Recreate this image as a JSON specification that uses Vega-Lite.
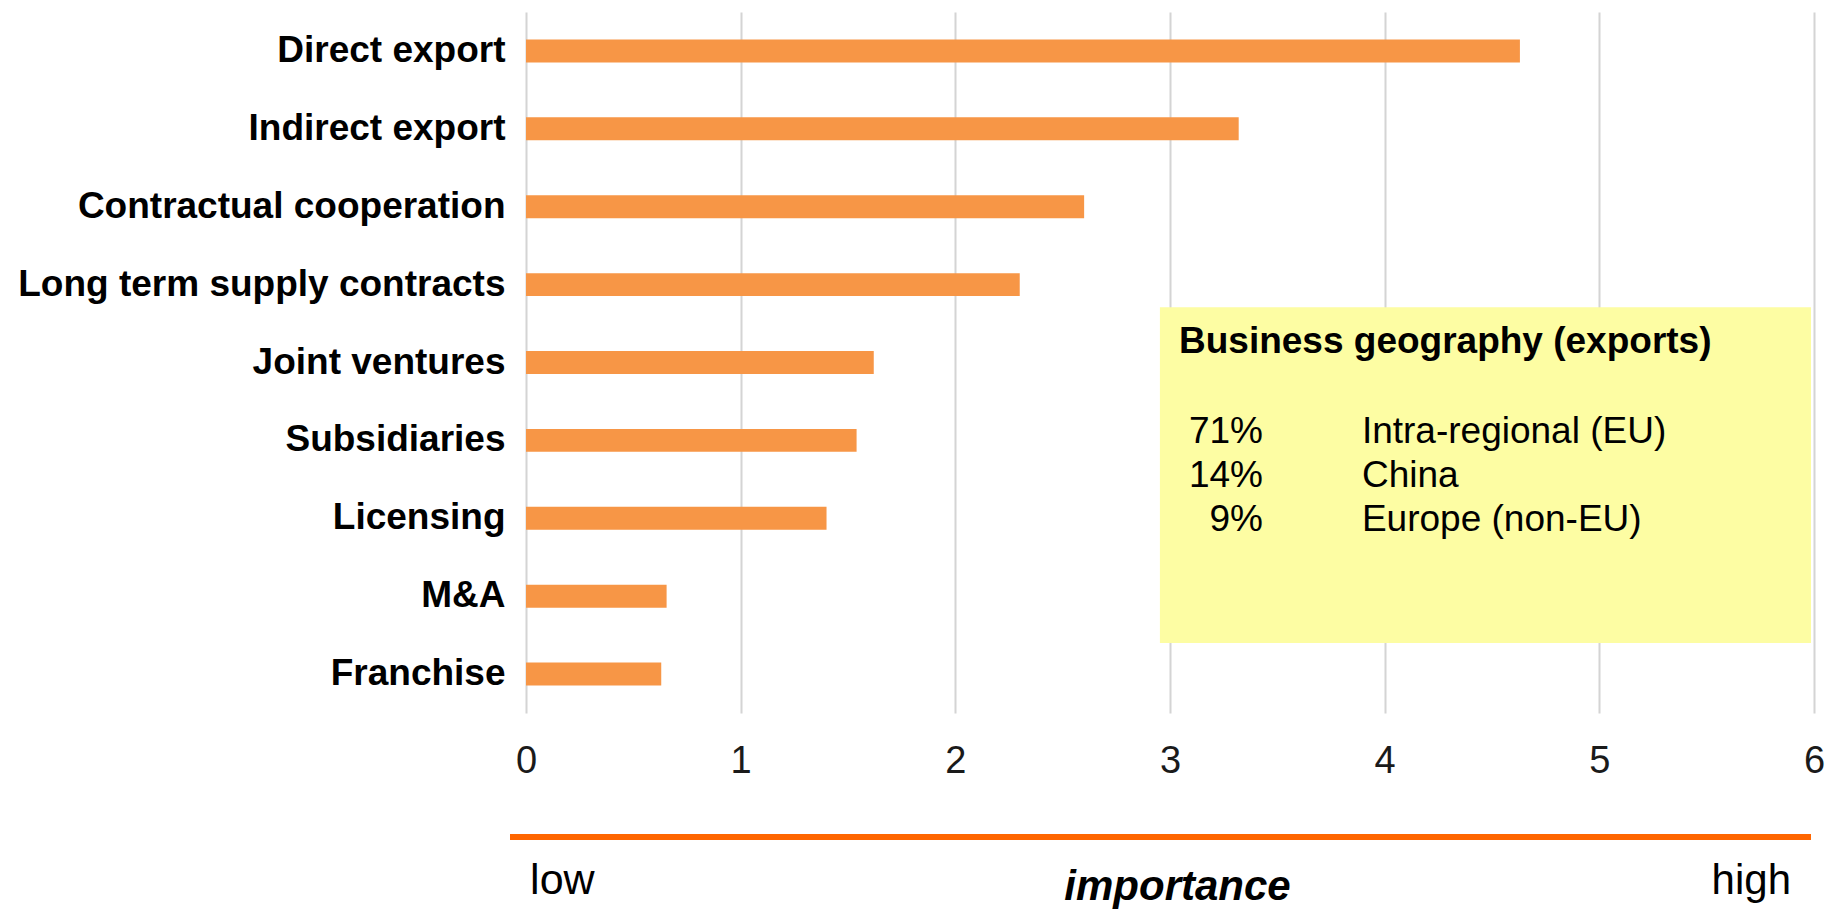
{
  "$schema": "https://vega.github.io/schema/vega-lite/v6.json",
  "width": 1288,
  "height": 701,
  "autosize": {"type": "none"},
  "padding": {"left": 526, "top": 12, "right": 18, "bottom": 197},
  "background": "white",
  "config": {"view": {"stroke": null}, "font": "Liberation Sans"},
  "resolve": {"scale": {"y": "independent"}, "axis": {"y": "independent"}},
  "layer": [
    {
      "data": {"values": [
        {"method": "Direct export\u00a0", "importance": 4.63},
        {"method": "Indirect export\u00a0", "importance": 3.32},
        {"method": "Contractual cooperation", "importance": 2.60},
        {"method": "Long term supply contracts", "importance": 2.30},
        {"method": "Joint ventures", "importance": 1.62},
        {"method": "Subsidiaries", "importance": 1.54},
        {"method": "Licensing\u00a0", "importance": 1.40},
        {"method": "M&A", "importance": 0.655},
        {"method": "Franchise", "importance": 0.63}
      ]},
      "mark": {"type": "bar", "color": "#F79646"},
      "encoding": {
        "y": {"field": "method", "type": "nominal", "sort": null,
          "scale": {"paddingInner": 0.705, "paddingOuter": 0.353},
          "axis": {"title": null, "domain": false, "ticks": false, "labelFont": "Liberation Sans", "labelFontSize": 37, "labelFontWeight": "bold", "labelColor": "#000000", "labelPadding": 21, "labelLimit": 600}},
        "x": {"field": "importance", "type": "quantitative",
          "scale": {"domain": [0, 6], "nice": false, "zero": false},
          "axis": {"title": null, "values": [0, 1, 2, 3, 4, 5, 6], "format": "d", "domain": false, "ticks": false, "tickSize": 0, "grid": true, "gridColor": "#d4d4d4", "gridWidth": 2, "labelFont": "Liberation Sans", "labelFontSize": 38, "labelColor": "#1a1a1a", "labelPadding": 29, "labelFlush": false}}
      }
    },
    {
      "data": {"values": [{"left": 2.953, "right": 5.986, "top": 3.79, "bottom": 8.10}]},
      "mark": {"type": "rect", "color": "#FDFDA3"},
      "encoding": {
        "x": {"field": "left", "type": "quantitative", "scale": {"domain": [0, 6], "nice": false, "zero": false}},
        "x2": {"field": "right"},
        "y": {"field": "top", "type": "quantitative", "scale": {"domain": [0, 9], "reverse": true, "nice": false, "zero": false}, "axis": null},
        "y2": {"field": "bottom"}
      }
    },
    {
      "data": {"values": [{"heading": "Business geography (exports)", "x": 3.042, "level": 4.378}]},
      "mark": {"type": "text", "font": "Liberation Sans", "fontSize": 37, "fontWeight": "bold", "align": "left", "baseline": "alphabetic", "color": "#000000"},
      "encoding": {
        "x": {"field": "x", "type": "quantitative", "scale": {"domain": [0, 6], "nice": false, "zero": false}},
        "y": {"field": "level", "type": "quantitative", "scale": {"domain": [0, 9], "reverse": true, "nice": false, "zero": false}, "axis": null},
        "text": {"field": "heading"}
      }
    },
    {
      "data": {"values": [
        {"share": "71%", "region": "Intra-regional (EU)", "level": 5.533},
        {"share": "14%", "region": "China", "level": 6.098},
        {"share": "9%", "region": "Europe (non-EU)", "level": 6.663}
      ]},
      "layer": [
        {
          "mark": {"type": "text", "font": "Liberation Sans", "fontSize": 37, "align": "right", "baseline": "alphabetic", "color": "#000000"},
          "encoding": {
            "x": {"datum": 3.433, "type": "quantitative", "scale": {"domain": [0, 6], "nice": false, "zero": false}},
            "y": {"field": "level", "type": "quantitative", "scale": {"domain": [0, 9], "reverse": true, "nice": false, "zero": false}, "axis": null},
            "text": {"field": "share"}
          }
        },
        {
          "mark": {"type": "text", "font": "Liberation Sans", "fontSize": 37, "align": "left", "baseline": "alphabetic", "color": "#000000"},
          "encoding": {
            "x": {"datum": 3.894, "type": "quantitative", "scale": {"domain": [0, 6], "nice": false, "zero": false}},
            "y": {"field": "level", "type": "quantitative", "scale": {"domain": [0, 9], "reverse": true, "nice": false, "zero": false}, "axis": null},
            "text": {"field": "region"}
          }
        }
      ]
    },
    {
      "data": {"values": [{"from": -0.0745, "to": 5.986, "level": 10.592}]},
      "mark": {"type": "rule", "color": "#FF6600", "strokeWidth": 6, "strokeCap": "butt"},
      "encoding": {
        "x": {"field": "from", "type": "quantitative", "scale": {"domain": [0, 6], "nice": false, "zero": false}},
        "x2": {"field": "to"},
        "y": {"field": "level", "type": "quantitative", "scale": {"domain": [0, 9], "reverse": true, "nice": false, "zero": false}, "axis": null}
      }
    },
    {
      "data": {"values": [{"word": "low", "x": 0.019, "level": 11.32}]},
      "mark": {"type": "text", "font": "Liberation Sans", "fontSize": 43, "align": "left", "baseline": "alphabetic", "color": "#000000"},
      "encoding": {
        "x": {"field": "x", "type": "quantitative", "scale": {"domain": [0, 6], "nice": false, "zero": false}},
        "y": {"field": "level", "type": "quantitative", "scale": {"domain": [0, 9], "reverse": true, "nice": false, "zero": false}, "axis": null},
        "text": {"field": "word"}
      }
    },
    {
      "data": {"values": [{"word": "importance", "x": 3.035, "level": 11.40}]},
      "mark": {"type": "text", "font": "Liberation Sans", "fontSize": 42, "fontWeight": "bold", "fontStyle": "italic", "align": "center", "baseline": "alphabetic", "color": "#000000"},
      "encoding": {
        "x": {"field": "x", "type": "quantitative", "scale": {"domain": [0, 6], "nice": false, "zero": false}},
        "y": {"field": "level", "type": "quantitative", "scale": {"domain": [0, 9], "reverse": true, "nice": false, "zero": false}, "axis": null},
        "text": {"field": "word"}
      }
    },
    {
      "data": {"values": [{"word": "high", "x": 5.893, "level": 11.32}]},
      "mark": {"type": "text", "font": "Liberation Sans", "fontSize": 42, "align": "right", "baseline": "alphabetic", "color": "#000000"},
      "encoding": {
        "x": {"field": "x", "type": "quantitative", "scale": {"domain": [0, 6], "nice": false, "zero": false}},
        "y": {"field": "level", "type": "quantitative", "scale": {"domain": [0, 9], "reverse": true, "nice": false, "zero": false}, "axis": null},
        "text": {"field": "word"}
      }
    }
  ]
}
